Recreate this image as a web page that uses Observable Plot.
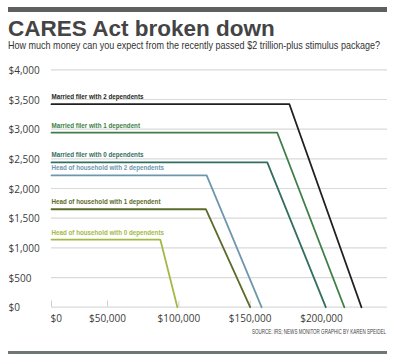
<!DOCTYPE html>
<html><head><meta charset="utf-8">
<script src="https://cdn.jsdelivr.net/npm/d3@7"></script>
<script src="https://cdn.jsdelivr.net/npm/@observablehq/plot@0.6"></script>
<style>
body{margin:0;background:#fff;}
#wrap{position:relative;width:400px;height:354px;overflow:hidden;background:#fff;}
#wrap svg{position:absolute;left:0;top:0;}
.bar{position:absolute;left:8px;width:379px;}
#topbar{top:7px;height:5px;background:#5d605f;}
#botbar{top:350.5px;height:3px;background:#6e7775;}
#title{position:absolute;left:8px;top:19.4px;font:bold 22.5px/0.9 "Liberation Sans",Arial,sans-serif;color:#444;white-space:nowrap;z-index:2;}
#subtitle{position:absolute;left:8px;top:40px;font:10.5px/1 "Liberation Sans",Arial,sans-serif;color:#333;white-space:nowrap;z-index:2;transform-origin:0 0;}
#source{position:absolute;left:252px;top:328.7px;font:6.3px/1 "Liberation Sans",Arial,sans-serif;color:#444;white-space:nowrap;z-index:2;transform-origin:0 0;}
</style></head><body>
<div id="wrap">
  <div class="bar" id="topbar"></div>
  <div id="title">CARES Act broken down</div>
  <div id="subtitle">How much money can you expect from the recently passed $2 trillion-plus stimulus package?</div>
  <div id="source">SOURCE: IRS; NEWS MONITOR GRAPHIC BY KAREN SPEIDEL</div>
  <div class="bar" id="botbar"></div>
</div>
<script>
const series = [
  "Married filer with 2 dependents",
  "Married filer with 1 dependent",
  "Married filer with 0 dependents",
  "Head of household with 2 dependents",
  "Head of household with 1 dependent",
  "Head of household with 0 dependents"
];
const colors = ["#231f20", "#3d7f46", "#336e60", "#6e97ad", "#5b6b2a", "#a2ba45"];
const amounts = [3420, 2940, 2440, 2220, 1650, 1140];
const phaseStart = [177500, 169000, 162000, 119500, 119000, 87000];
const phaseEnd = [228000, 216000, 203000, 158000, 150000, 99000];
const yTicks = [0, 500, 1000, 1500, 2000, 2500, 3000, 3500, 4000];
const yTickLabels = ["$0", "$500", "$1,000", "$1,500", "$2,000", "$2,500", "$3,000", "$3,500", "$4,000"];
const xTicks = [0, 50000, 100000, 150000, 200000];
const xTickLabels = ["$0", "$50,000", "$100,000", "$150,000", "$200,000"];

const points = [];
series.forEach((s, i) => {
  points.push({series: s, income: 0, amount: amounts[i]});
  points.push({series: s, income: phaseStart[i], amount: amounts[i]});
  points.push({series: s, income: phaseEnd[i], amount: 0});
});
const labels = series.map((s, i) => ({series: s, income: 0, amount: amounts[i]}));
const xFmt = d => xTickLabels[xTicks.indexOf(d)];
const yFmt = d => yTickLabels[yTicks.indexOf(d)];
const tickFont = "'Open Sans', 'DejaVu Sans', sans-serif";

const chart = Plot.plot({
  width: 400, height: 354,
  marginLeft: 51, marginRight: 13, marginTop: 69.3, marginBottom: 47.3,
  style: {background: "transparent", overflow: "visible", fontFamily: tickFont},
  x: {type: "linear", domain: [0, 50000, 200000], range: [51, 107, 321]},
  y: {domain: [0, 4000]},
  color: {domain: series, range: colors},
  marks: [
    Plot.ruleY(yTicks, {stroke: "#dadada", strokeWidth: 1.2}),
    Plot.axisX({ticks: xTicks.slice(0, 4), tickSize: 6, dy: -6, fill: "none", stroke: "#cfcfcf", label: null}),
    Plot.axisY({ticks: yTicks, tickSize: 0, tickPadding: 0, dx: -43, dy: 1, textAnchor: "start", tickFormat: yFmt, fontSize: 10, fill: "#3b3b3b", label: null}),
    Plot.axisX({ticks: xTicks.slice(1), tickSize: 0, tickPadding: 8, tickFormat: xFmt, fontSize: 10, fill: "#3b3b3b", label: null}),
    Plot.axisX({ticks: xTicks.slice(0, 1), tickSize: 0, tickPadding: 8, tickFormat: xFmt, textAnchor: "start", dx: -1, fontSize: 10, fill: "#3b3b3b", label: null}),
    Plot.line(points, {x: "income", y: "amount", z: "series", stroke: "series", strokeWidth: 1.8}),
    Plot.text(labels, {x: "income", y: "amount", text: "series", fill: "series", textAnchor: "start", lineAnchor: "bottom", dy: -5, fontWeight: "bold", fontSize: 8, fontFamily: "'Liberation Sans', Arial, sans-serif"})
  ]
});
const wrap = document.getElementById("wrap");
wrap.prepend(chart);

// condense text horizontally to mimic the condensed typeface
function fitWidth(el, target) {
  const w = el.getBoundingClientRect().width;
  el.style.transform = `scaleX(${target / w})`;
}
fitWidth(document.getElementById("subtitle"), 372);
fitWidth(document.getElementById("source"), 134);

const labelTexts = Array.from(chart.querySelectorAll("text")).filter(t => series.includes(t.textContent));
const ref = labelTexts.find(t => t.textContent === series[0]);
const factor = 92 / ref.getComputedTextLength();
labelTexts.forEach(t => {
  const len = t.getComputedTextLength();
  t.setAttribute("textLength", len * factor);
  t.setAttribute("lengthAdjust", "spacingAndGlyphs");
});
</script>
</body></html>
